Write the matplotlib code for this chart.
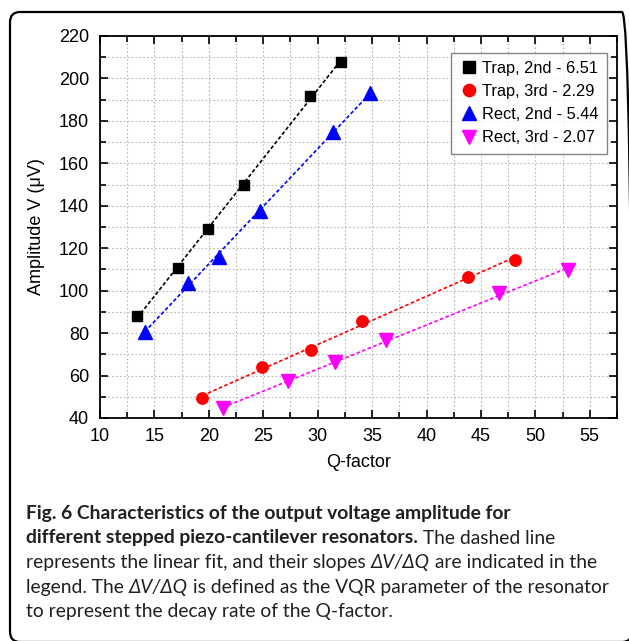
import numpy as np
import matplotlib
matplotlib.use("Agg")
import matplotlib.pyplot as plt
from matplotlib.patches import FancyBboxPatch
from matplotlib.ticker import MultipleLocator

# ---------------- data ----------------
trap2_q = [13.4, 17.2, 19.9, 23.2, 29.3, 32.1]
trap2_v = [88.2, 110.5, 129.2, 149.8, 191.7, 207.8]
trap3_q = [19.4, 24.9, 29.4, 34.1, 43.8, 48.1]
trap3_v = [49.6, 63.9, 72.0, 85.9, 106.6, 114.5]
rect2_q = [14.1, 18.1, 20.9, 24.7, 31.4, 34.8]
rect2_v = [80.7, 103.8, 115.7, 137.7, 174.9, 193.0]
rect3_q = [21.3, 27.3, 31.6, 36.3, 46.7, 53.0]
rect3_v = [44.6, 57.4, 66.2, 76.8, 98.8, 109.7]
series_labels = ["Trap, 2nd - 6.51", "Trap, 3rd - 2.29",
                 "Rect, 2nd - 5.44", "Rect, 3rd - 2.07"]
x_ticks = [10, 15, 20, 25, 30, 35, 40, 45, 50, 55]
y_ticks = [40, 60, 80, 100, 120, 140, 160, 180, 200, 220]

W, H = 629, 641
fig = plt.figure(figsize=(W / 100, H / 100), dpi=100)
plt.rcParams['font.family'] = ['Liberation Sans', 'DejaVu Sans']

# outer rounded frame (right and bottom edges fall at the image border)
frame = FancyBboxPatch((10 / W, 1 - 642 / H), 622 / W, (642 - 12) / H,
                       boxstyle="round,pad=0,rounding_size=0.016",
                       transform=fig.transFigure, fill=False,
                       edgecolor='black', linewidth=1.6, clip_on=True)
fig.patches.append(frame)

ax = fig.add_axes([100 / W, 1 - 418 / H, 517 / W, 382 / H])

series = [
    (trap2_q, trap2_v, 's', 'black', 7.6),
    (trap3_q, trap3_v, 'o', 'red', 8.2),
    (rect2_q, rect2_v, '^', 'blue', 9.6),
    (rect3_q, rect3_v, 'v', 'magenta', 9.6),
]
for (q, v, m, c, ms), lab in zip(series, series_labels):
    q = np.asarray(q); v = np.asarray(v)
    k, b = np.polyfit(q, v, 1)
    xs = np.array([q.min(), q.max()])
    ax.plot(xs, k * xs + b, color=c, linewidth=1.2,
            linestyle=(0, (2.2, 1.4)), zorder=2)
    ax.plot(q, v, linestyle='none', marker=m, color=c, markersize=ms,
            label=lab, zorder=3)

ax.set_xlim(10, 57.5)
ax.set_ylim(40, 220)
ax.set_xticks(x_ticks)
ax.set_yticks(y_ticks)
ax.xaxis.set_minor_locator(MultipleLocator(2.5))
ax.yaxis.set_minor_locator(MultipleLocator(10))
ax.tick_params(which='both', direction='in', top=True, right=True,
               labelsize=13, width=1.2)
ax.tick_params(which='major', length=6)
ax.tick_params(which='minor', length=4)
ax.tick_params(axis='x', which='major', pad=7.5)
ax.tick_params(axis='y', which='major', pad=8)
for s in ax.spines.values():
    s.set_linewidth(1.3)
ax.grid(True, which='both', linestyle=(0, (1.5, 2.0)), color='#b8b8b8',
        linewidth=0.8, zorder=0)
ax.set_axisbelow(True)
ax.set_xlabel("Q-factor", fontsize=13, labelpad=6)
ax.set_ylabel("Amplitude V (\u03bcV)", fontsize=13, labelpad=10)

leg = ax.legend(loc='upper right', bbox_to_anchor=(0.981, 0.9565),
                fontsize=11.8, frameon=True, fancybox=False,
                edgecolor='#666666', handletextpad=0.2,
                handlelength=1.2, borderpad=0.5, labelspacing=0.5,
                borderaxespad=0, markerscale=1.08)
leg.get_frame().set_linewidth(1.0)

# ---------------- caption ----------------
cap_font = ['Lato', 'DejaVu Sans']
cap_size = 13.85
caption_lines = [
    [("Fig. 6 Characteristics of the output voltage amplitude for", 'bold', 'normal')],
    [("different stepped piezo-cantilever resonators.", 'bold', 'normal'),
     (" The dashed line", 'normal', 'normal')],
    [("represents the linear fit, and their slopes ", 'normal', 'normal'),
     ("\u0394V/\u0394Q", 'normal', 'italic'),
     (" are indicated in the", 'normal', 'normal')],
    [("legend. The ", 'normal', 'normal'),
     ("\u0394V/\u0394Q", 'normal', 'italic'),
     (" is defined as the VQR parameter of the resonator", 'normal', 'normal')],
    [("to represent the decay rate of the Q-factor.", 'normal', 'normal')],
]
baselines = [519, 543.5, 568, 592.5, 617]

fig.canvas.draw()
renderer = fig.canvas.get_renderer()


def text_width(s, weight, style):
    t = fig.text(0, 0, "|" + s + "|", fontsize=cap_size, family=cap_font,
                 weight=weight, style=style)
    w1 = t.get_window_extent(renderer).width
    t.remove()
    t = fig.text(0, 0, "||", fontsize=cap_size, family=cap_font,
                 weight=weight, style=style)
    w0 = t.get_window_extent(renderer).width
    t.remove()
    return w1 - w0


for pieces, yb in zip(caption_lines, baselines):
    x = 26.0
    for s, weight, style in pieces:
        fig.text(x / W, 1 - yb / H, s, fontsize=cap_size, family=cap_font,
                 weight=weight, style=style, va='baseline', ha='left',
                 color='#231f20')
        x += text_width(s, weight, style)

fig.savefig("out.png", dpi=100)
